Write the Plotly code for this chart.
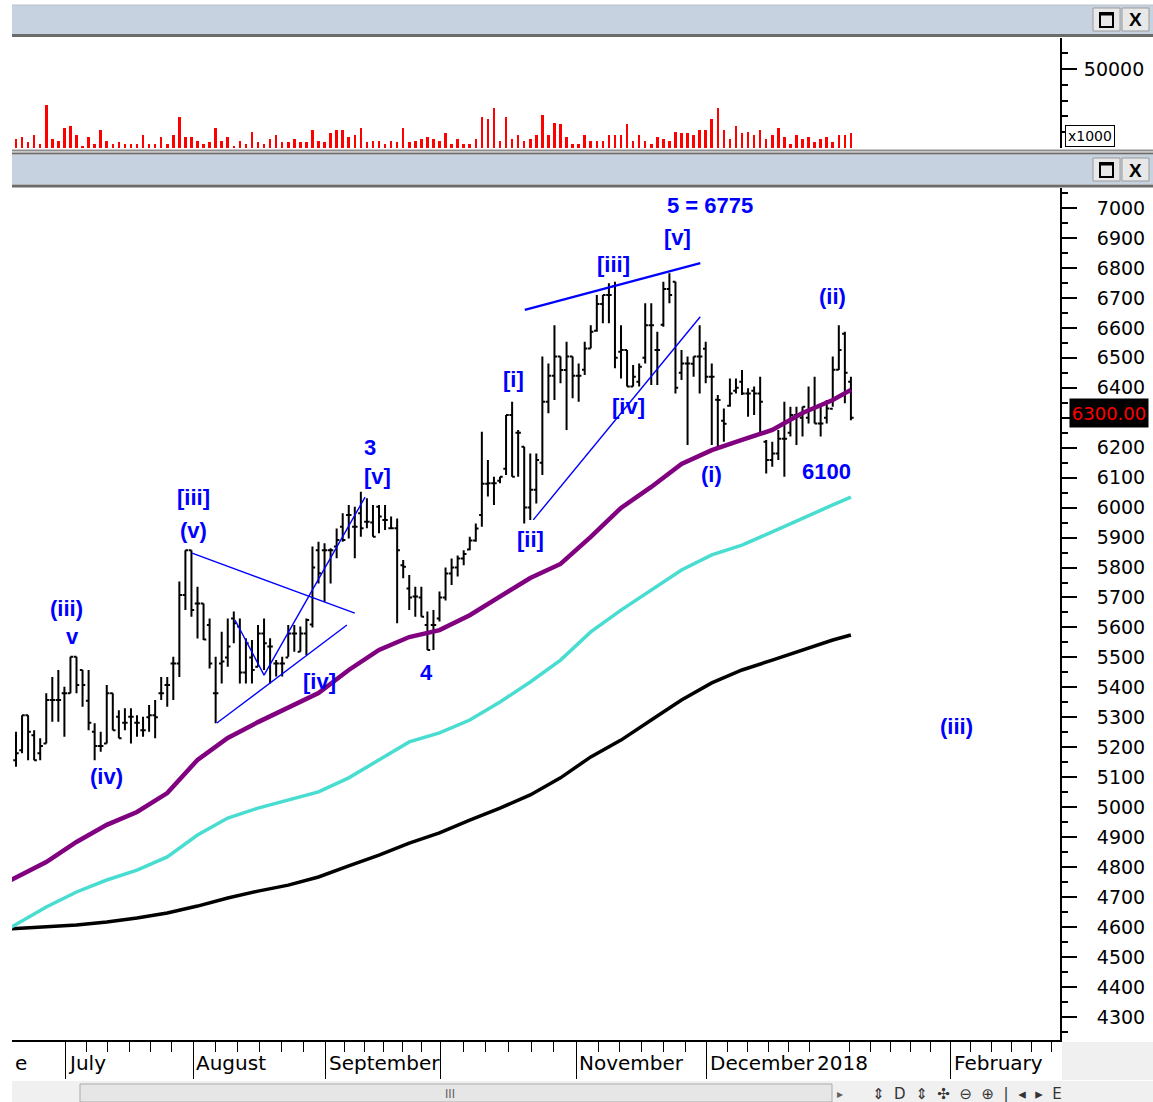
import plotly.graph_objects as go

W, H = 1153, 1102
def px(x): return x / W
def py(y): return 1 - y / H

# ---------------- data ----------------
bar_index = list(range(139))
opens = [5157, 5190, 5307, 5240, 5180, 5213, 5358, 5358, 5380, 5380,
         5502, 5458, 5355, 5252, 5204, 5213, 5380, 5302, 5282, 5302,
         5282, 5257, 5300, 5307, 5380, 5408, 5480, 5480, 5708, 5858,
         5680, 5680, 5608, 5380, 5480, 5500, 5630, 5603, 5450, 5500,
         5469, 5580, 5536, 5480, 5480, 5500, 5580, 5519, 5580, 5610,
         5858, 5858, 5858, 5870, 5936, 5975, 5936, 5981, 5953, 5950,
         6003, 5959, 5931, 5931, 5808, 5730, 5703, 5700, 5608, 5608,
         5630, 5700, 5780, 5800, 5830, 5860, 5890, 5975, 6080, 6081,
         6090, 6130, 6309, 6250, 6203, 6000, 6060, 6150, 6353, 6440,
         6504, 6459, 6504, 6440, 6460, 6531, 6590, 6680, 6710, 6740,
         6520, 6526, 6404, 6420, 6500, 6609, 6526, 6610, 6730, 6754,
         6450, 6481, 6480, 6504, 6530, 6437, 6360, 6290, 6340, 6390,
         6420, 6381, 6390, 6381, 6220, 6159, 6181, 6230, 6250, 6309,
         6300, 6300, 6330, 6281, 6300, 6330, 6460, 6580, 6420]
highs = [5252, 5307, 5307, 5257, 5230, 5380, 5435, 5458, 5402, 5502,
         5502, 5458, 5458, 5280, 5252, 5408, 5380, 5324, 5330, 5330,
         5307, 5302, 5341, 5358, 5435, 5435, 5502, 5753, 5858, 5858,
         5736, 5680, 5630, 5502, 5586, 5630, 5653, 5630, 5564, 5558,
         5608, 5630, 5564, 5491, 5502, 5608, 5608, 5603, 5630, 5870,
         5886, 5881, 5864, 5930, 5981, 6009, 6003, 6053, 6031, 6009,
         6009, 6009, 5970, 5964, 5825, 5775, 5736, 5736, 5653, 5658,
         5720, 5800, 5830, 5840, 5858, 5903, 5947, 6253, 6159, 6103,
         6103, 6309, 6353, 6259, 6203, 6181, 6181, 6504, 6481, 6609,
         6504, 6554, 6504, 6481, 6554, 6609, 6710, 6710, 6749, 6754,
         6609, 6526, 6476, 6481, 6682, 6682, 6587, 6754, 6782, 6754,
         6526, 6504, 6504, 6609, 6554, 6481, 6376, 6331, 6431, 6431,
         6459, 6398, 6404, 6437, 6226, 6220, 6259, 6353, 6337, 6337,
         6337, 6404, 6437, 6337, 6359, 6504, 6609, 6587, 6437]
lows = [5135, 5180, 5157, 5157, 5157, 5213, 5285, 5285, 5235, 5380,
        5380, 5335, 5257, 5157, 5185, 5213, 5257, 5230, 5257, 5213,
        5235, 5235, 5252, 5230, 5358, 5335, 5358, 5435, 5658, 5636,
        5563, 5558, 5463, 5280, 5413, 5469, 5547, 5413, 5413, 5413,
        5469, 5458, 5413, 5436, 5436, 5502, 5519, 5519, 5508, 5600,
        5747, 5686, 5747, 5831, 5886, 5897, 5831, 5903, 5931, 5903,
        5914, 5925, 5931, 5614, 5764, 5658, 5636, 5636, 5525, 5525,
        5620, 5690, 5742, 5770, 5808, 5858, 5886, 5936, 6037, 6009,
        6081, 6109, 6103, 6103, 5947, 5959, 6014, 6109, 6315, 6359,
        6415, 6259, 6365, 6353, 6443, 6532, 6587, 6615, 6615, 6465,
        6431, 6404, 6404, 6404, 6481, 6409, 6409, 6604, 6682, 6381,
        6426, 6209, 6437, 6381, 6415, 6209, 6192, 6220, 6337, 6381,
        6376, 6303, 6309, 6248, 6114, 6136, 6159, 6103, 6237, 6209,
        6237, 6281, 6281, 6237, 6281, 6337, 6459, 6348, 6292]
closes = [5180, 5307, 5252, 5157, 5204, 5358, 5358, 5358, 5380, 5502,
          5408, 5408, 5282, 5204, 5204, 5380, 5257, 5230, 5282, 5302,
          5282, 5257, 5307, 5300, 5380, 5408, 5480, 5708, 5858, 5658,
          5680, 5560, 5480, 5380, 5486, 5536, 5614, 5450, 5547, 5458,
          5580, 5547, 5536, 5480, 5480, 5580, 5580, 5580, 5625, 5800,
          5781, 5858, 5858, 5892, 5892, 5975, 5936, 5931, 5953, 5903,
          5970, 5959, 5931, 5858, 5803, 5700, 5703, 5636, 5525, 5608,
          5700, 5780, 5800, 5830, 5845, 5890, 5930, 6080, 6081, 6081,
          6103, 6309, 6103, 6250, 6000, 6060, 6159, 6353, 6440, 6504,
          6459, 6504, 6440, 6440, 6531, 6587, 6680, 6710, 6710, 6500,
          6526, 6404, 6437, 6470, 6609, 6609, 6526, 6730, 6710, 6400,
          6481, 6481, 6504, 6504, 6437, 6437, 6359, 6280, 6381, 6400,
          6381, 6381, 6381, 6353, 6159, 6181, 6230, 6230, 6309, 6309,
          6337, 6326, 6281, 6281, 6331, 6460, 6526, 6450, 6300]
volume_k = [5500, 6750, 3600, 8000, 2300, 27000, 5500, 4200, 12450, 13700,
            8000, 1050, 6750, 2300, 11200, 4200, 2300, 3600, 2300, 2300,
            2300, 8000, 2300, 2300, 6750, 2300, 8000, 19400, 6750, 6750,
            4200, 2300, 3600, 12450, 4200, 6750, 1050, 4200, 2300, 9900,
            3600, 2300, 5500, 8000, 3600, 3600, 5500, 3600, 3600, 11200,
            4200, 3600, 9300, 11200, 11200, 6750, 8000, 12450, 3600, 4200,
            4200, 2300, 4200, 3600, 12450, 3600, 4200, 5500, 6750, 5500,
            4200, 9300, 2300, 5500, 2300, 2300, 5500, 19400, 18150, 25100,
            4200, 19400, 5500, 8000, 4200, 5500, 8000, 20700, 8000, 15600,
            15000, 6750, 2300, 2300, 8000, 4200, 4200, 4200, 8000, 8000,
            8000, 15000, 4200, 8000, 4200, 2300, 6750, 5500, 4200, 9900,
            9300, 9300, 8000, 11200, 11200, 18150, 25100, 11200, 5500, 13700,
            9300, 9900, 8000, 11200, 5500, 8000, 12450, 6750, 2300, 8000,
            5500, 6750, 3600, 5500, 6750, 3600, 8000, 8000, 9300]

# moving averages sampled every 5 bars
ma_index = [-1, 5, 10, 15, 20, 25, 30, 35, 40, 45, 50, 55, 60, 65, 70,
            75, 80, 85, 90, 95, 100, 105, 110, 115, 120, 125, 130, 135, 138]
ma_short = [4755, 4817, 4884, 4941, 4984, 5047, 5158, 5231, 5284, 5331,
            5381, 5458, 5525, 5568, 5591, 5641, 5705, 5765, 5812, 5902,
            5999, 6069, 6146, 6192, 6226, 6259, 6316, 6359, 6393]
ma_mid = [4597, 4667, 4717, 4757, 4790, 4834, 4907, 4964, 4997, 5024,
          5051, 5098, 5158, 5218, 5248, 5291, 5351, 5418, 5491, 5585,
          5658, 5725, 5792, 5842, 5875, 5919, 5965, 6009, 6035]
ma_long = [4594, 4600, 4607, 4617, 4630, 4647, 4670, 4697, 4720, 4740,
           4767, 4804, 4840, 4880, 4914, 4957, 4997, 5041, 5098, 5168,
           5224, 5291, 5358, 5415, 5458, 5491, 5525, 5558, 5575]

# analyst trend lines (bar index, price)
trend_lines = [
    ([29.1, 56.0], [5848, 5648]),
    ([33.2, 54.7], [5281, 5608]),
    ([36.2, 41.0, 57.7], [5625, 5441, 6035]),
    ([85.5, 113.1], [5959, 6637]),
    ([84.1, 113.1], [6660, 6816]),
]

# wave labels (text, bar index, price)
wave_labels = [
    ("(iii)", 8.4, 5662), ("v", 9.3, 5571), ("(iv)", 15.0, 5104),
    ("[iii]", 29.3, 6035), ("(v)", 29.4, 5925), ("[iv]", 50.1, 5421),
    ("3", 58.5, 6202), ("[v]", 59.7, 6105), ("4", 67.9, 5448),
    ("[i]", 82.3, 6429), ("[ii]", 85.1, 5895), ("[iii]", 98.7, 6813),
    ("[iv]", 101.2, 6339), ("5 = 6775", 114.7, 7007), ("[v]", 109.3, 6900),
    ("(ii)", 134.9, 6703), ("(i)", 114.9, 6109), ("6100", 133.9, 6119),
    ("(iii)", 155.4, 5268),
]

month_bounds = [8.1, 29.3, 51.2, 70.2, 92.6, 114.2, 134.5, 154.5, 174.5]
month_labels = ["July", "August", "September", "", "November", "December", "2018", "February", ""]

price_ticks = list(range(4300, 7001, 100))
price_tick_text = ["" if v == 6300 else str(v) for v in price_ticks]
vol_ticks = [50000]
vol_tick_text = ["50000"]

last_price_label = "6300.00"

FONT = "Liberation Sans, Arial"
AXFONT = "DejaVu Sans"

# ---------------- figure ----------------
fig = go.Figure()

fig.add_trace(go.Ohlc(
    x=bar_index, open=opens, high=highs, low=lows, close=closes,
    increasing=dict(line=dict(color="black", width=2)),
    decreasing=dict(line=dict(color="black", width=2)),
    tickwidth=0.45, xaxis="x", yaxis="y", showlegend=False))

fig.add_trace(go.Bar(x=bar_index, y=volume_k, width=0.42,
                     marker=dict(color="#FF0000", line=dict(width=0)),
                     xaxis="x", yaxis="y2", showlegend=False))

for vals, col, wd in [(ma_long, "#000000", 3.5), (ma_mid, "#48DDD0", 3.5), (ma_short, "#800080", 4.5)]:
    fig.add_trace(go.Scatter(x=ma_index, y=vals, mode="lines",
                             line=dict(color=col, width=wd), xaxis="x", yaxis="y",
                             showlegend=False))

for i, (xs, ys) in enumerate(trend_lines):
    fig.add_trace(go.Scatter(x=xs, y=ys, mode="lines",
                             line=dict(color="#0000FF", width=2.2 if i == 4 else 1.4),
                             xaxis="x", yaxis="y", showlegend=False))

annotations = []
for txt, xi, yv in wave_labels:
    annotations.append(dict(x=xi, y=yv, xref="x", yref="y", text="<b>" + txt + "</b>",
                            showarrow=False,
                            font=dict(family=FONT, size=22, color="#0000FF"),
                            xanchor="center", yanchor="middle"))

# month labels below the axis
for b, lab in zip(month_bounds, month_labels):
    if lab:
        shift = -15 if lab == "2018" else 1
        annotations.append(dict(x=b, y=py(1063), xref="x", yref="paper", text=lab,
                                showarrow=False, xanchor="left", yanchor="middle", xshift=shift,
                                font=dict(family=AXFONT, size=20, color="black")))
annotations.append(dict(x=px(13), y=py(1063), xref="paper", yref="paper", text="e",
                        showarrow=False, xanchor="left", yanchor="middle",
                        font=dict(family=AXFONT, size=20, color="black")))

# last price box
annotations.append(dict(x=px(1069), y=closes[-1], xref="paper", yref="y", yshift=5,
                        text=last_price_label, showarrow=False, xanchor="left", yanchor="middle",
                        bgcolor="black", width=76, height=26, borderpad=1,
                        font=dict(family=AXFONT, size=18, color="#FF0000")))
# x1000 box
annotations.append(dict(x=px(1065), y=py(136), xref="paper", yref="paper", text="x1000",
                        showarrow=False, xanchor="left", yanchor="middle",
                        bgcolor="white", bordercolor="black", borderwidth=1, borderpad=2,
                        font=dict(family=AXFONT, size=14, color="black")))

shapes = []
def rect(x0, y0, x1, y1, fill, line=None, lw=0):
    shapes.append(dict(type="rect", xref="paper", yref="paper", x0=px(x0), x1=px(x1),
                       y0=py(y1), y1=py(y0), fillcolor=fill,
                       line=dict(color=line or fill, width=lw), layer="below"))
def hline(x0, x1, y, col, lw):
    shapes.append(dict(type="line", xref="paper", yref="paper", x0=px(x0), x1=px(x1),
                       y0=py(y), y1=py(y), line=dict(color=col, width=lw)))

# header bars
rect(12, 5, 1153, 34, "#C7D2E1")
hline(12, 1153, 5, "#B9C2CE", 1)
hline(12, 1153, 35.5, "#6B6B6B", 3)
hline(12, 1153, 150.5, "#8E8E8E", 2)
hline(12, 1153, 153.5, "#6B6B6B", 2)
rect(12, 155, 1153, 184, "#C7D2E1")
hline(12, 1153, 186, "#6B6B6B", 3)

def buttons(ytop):
    for x0 in (1093, 1122):
        rect(x0, ytop, x0 + 27, ytop + 23, "#E8E8E8", "#9A9A9A", 1)
    shapes.append(dict(type="rect", xref="paper", yref="paper", x0=px(1100), x1=px(1113),
                       y0=py(ytop + 19), y1=py(ytop + 5), fillcolor="rgba(0,0,0,0)",
                       line=dict(color="black", width=2)))
    hline(1100, 1113, ytop + 6, "black", 3)
    annotations.append(dict(x=px(1135.5), y=py(ytop + 12), xref="paper", yref="paper",
                            text="<b>X</b>", showarrow=False, xanchor="center", yanchor="middle",
                            font=dict(family=FONT, size=19, color="black")))
buttons(8)
buttons(158)

# bottom right corner and scrollbar
rect(1062, 1042, 1153, 1080, "#F0F0F0")
rect(12, 1081, 1153, 1102, "#F0F0F0")
rect(80, 1084, 832, 1102, "#E6E6E6", "#ABABAB", 1)
annotations.append(dict(x=px(450), y=py(1094), xref="paper", yref="paper", text="III",
                        showarrow=False, xanchor="center", yanchor="middle",
                        font=dict(family=FONT, size=12, color="#606060")))
annotations.append(dict(x=px(840), y=py(1094), xref="paper", yref="paper", text="▸",
                        showarrow=False, xanchor="center", yanchor="middle",
                        font=dict(family="DejaVu Sans", size=12, color="#606060")))
annotations.append(dict(x=px(870), y=py(1094), xref="paper", yref="paper", xanchor="left",
                        yanchor="middle",
                        text="⇕  D  ⇕  ✣  ⊖  ⊕  |  ◂  ▸  E", showarrow=False,
                        font=dict(family="DejaVu Sans", size=15, color="#333333")))

minor_x = []
for a, b in zip(month_bounds[:-1], month_bounds[1:]):
    for k in range(1, 6):
        minor_x.append(a + (b - a) * k / 6)
minor_x = [m for m in minor_x if m < 172.5]
major_x = [b for b, lab in zip(month_bounds, month_labels) if lab != "2018" and b < 172.5]

fig.update_layout(
    width=W, height=H, margin=dict(l=0, r=0, t=0, b=0),
    paper_bgcolor="white", plot_bgcolor="white",
    bargap=0, showlegend=False,
    annotations=annotations, shapes=shapes,
    xaxis=dict(domain=[px(12), px(1060)], range=[-0.661, 172.56], anchor="y",
               showgrid=False, zeroline=False, showline=True, linecolor="black", linewidth=2,
               ticks="outside", tickmode="array", tickvals=major_x, ticklen=37, tickwidth=1,
               tickcolor="black", showticklabels=False,
               minor=dict(tickmode="array", tickvals=minor_x, ticklen=10, tickwidth=1,
                          tickcolor="black", ticks="outside"),
               rangeslider=dict(visible=False)),
    yaxis=dict(domain=[py(1040), py(188)], range=[4222.96, 7066.8], side="right", anchor="x",
               showgrid=False, zeroline=False, showline=True, linecolor="black", linewidth=2,
               ticks="outside", tickmode="array", tickvals=price_ticks, ticktext=price_tick_text,
               ticklen=15, tickwidth=2, tickcolor="black",
               ticklabelstandoff=16,
               tickfont=dict(family=AXFONT, size=19, color="black"),
               minor=dict(tickmode="array", tickvals=[v + 50 for v in range(4200, 7001, 100)],
                          ticklen=6, tickwidth=2, tickcolor="black", ticks="outside")),
    yaxis2=dict(domain=[py(148), py(38)], range=[0, 69620], side="right", anchor="x",
                showgrid=False, zeroline=False, showline=True, linecolor="black", linewidth=2,
                ticks="outside", tickmode="array", tickvals=vol_ticks, ticktext=vol_tick_text,
                ticklen=15, tickwidth=2, tickcolor="black", ticklabelstandoff=3,
                tickfont=dict(family=AXFONT, size=19, color="black"),
                minor=dict(tickmode="array", tickvals=[10000, 20000, 30000, 40000, 60000],
                           ticklen=6, tickwidth=2, tickcolor="black", ticks="outside")),
)

fig.write_html("out.html", config={"displayModeBar": False},
               post_script="document.body.style.margin='0px';document.body.style.overflow='hidden';")
